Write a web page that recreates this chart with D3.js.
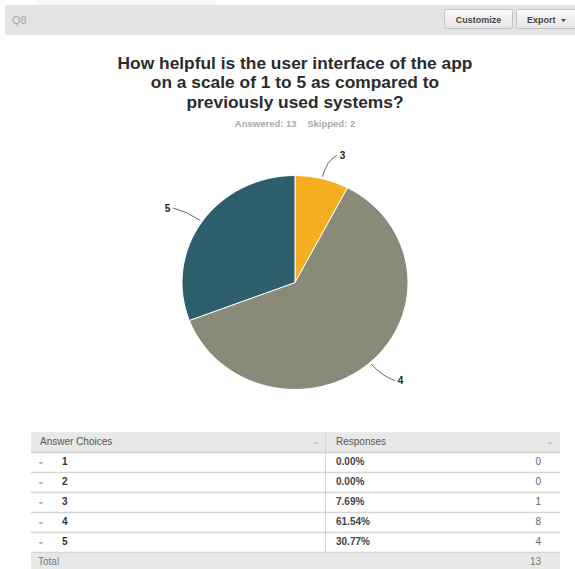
<!DOCTYPE html>
<html>
<head>
<meta charset="utf-8">
<script src="https://cdn.jsdelivr.net/npm/d3@7"></script>
<style>
  body { margin: 0; background: #fff; }
  svg { display: block; font-family: 'Liberation Sans', Arial, sans-serif; }
</style>
</head>
<body>
<div id="chart"></div>
<script>
const TITLE_LINES = [
  'How helpful is the user interface of the app',
  'on a scale of 1 to 5 as compared to',
  'previously used systems?',
];
const ANSWERED = 13;
const SKIPPED = 2;
const CHOICES = ['1', '2', '3', '4', '5'];
const RESPONSES = [0, 0, 1, 8, 4];
const COLORS = ['#6e9fb7', '#c9502c', '#f5ae1f', '#898a78', '#2e5d6b'];

const width = 575;
const height = 569;
const cx = 295;
const cy = 282.5;
const rx = 113;
const ry = 107;

const svg = d3.select('#chart').append('svg')
  .attr('width', width)
  .attr('height', height);

// top toolbar
svg.append('rect').attr('x', 36).attr('y', 0).attr('width', 180).attr('height', 5).attr('fill', '#f7f7f7');
svg.append('rect').attr('x', 5).attr('y', 5).attr('width', 570).attr('height', 30).attr('fill', '#e4e4e2');
svg.append('text')
  .attr('x', 12).attr('y', 24)
  .attr('font-size', 11).attr('fill', '#a8a8a8')
  .text('Q8');

const defs = svg.append('defs');
const grad = defs.append('linearGradient').attr('id', 'btn').attr('x1', 0).attr('y1', 0).attr('x2', 0).attr('y2', 1);
grad.append('stop').attr('offset', 0).attr('stop-color', '#fafafa');
grad.append('stop').attr('offset', 1).attr('stop-color', '#e6e6e6');

const buttons = [
  { label: 'Customize', x: 444, w: 68, tx: 478.5, anchor: 'middle' },
  { label: 'Export', x: 516, w: 62, tx: 527, anchor: 'start' },
];
buttons.forEach((b) => {
  svg.append('rect')
    .attr('x', b.x + 0.5).attr('y', 9.5).attr('width', b.w).attr('height', 19)
    .attr('rx', 2)
    .attr('fill', 'url(#btn)').attr('stroke', '#c4c4c4');
  svg.append('text')
    .attr('x', b.tx)
    .attr('y', 23)
    .attr('text-anchor', b.anchor)
    .attr('font-size', 9).attr('font-weight', 700).attr('fill', '#444')
    .text(b.label);
});
svg.append('path').attr('d', 'M561,19 l5,0 l-2.5,3 z').attr('fill', '#444');

// title
const title = svg.append('text')
  .attr('text-anchor', 'middle')
  .attr('transform', `translate(${cx},0) scale(1.085,1)`)
  .attr('font-size', 16).attr('font-weight', 700).attr('fill', '#2b2b2b');
TITLE_LINES.forEach((line, i) => {
  title.append('tspan').attr('x', 0).attr('y', 69 + i * 19.5).text(line);
});
svg.append('text')
  .attr('x', cx).attr('y', 127)
  .attr('text-anchor', 'middle')
  .attr('font-size', 9.5).attr('font-weight', 700).attr('fill', '#a9a9a9')
  .attr('xml:space', 'preserve')
  .text(`Answered: ${ANSWERED}    Skipped: ${SKIPPED}`);

// pie (reference is slightly squashed vertically)
const data = CHOICES.map((c, i) => ({ choice: c, value: RESPONSES[i], color: COLORS[i] }));
const pie = d3.pie().sort(null).value(d => d.value);
const arcs = pie(data);
const arc = d3.arc().innerRadius(0).outerRadius(rx);

const g = svg.append('g').attr('transform', `translate(${cx},${cy})`);
g.append('g')
  .attr('transform', `scale(1,${ry / rx})`)
  .selectAll('path.slice')
  .data(arcs.filter(d => d.data.value > 0))
  .enter().append('path')
  .attr('class', 'slice')
  .attr('d', arc)
  .attr('fill', d => d.data.color)
  .attr('stroke', '#fff')
  .attr('stroke-width', 1);

// labels with curved connectors
arcs.filter(d => d.data.value > 0).forEach((d) => {
  const a = (d.startAngle + d.endAngle) / 2;
  const s = Math.sin(a);
  const c = -Math.cos(a);
  const side = s >= 0 ? 1 : -1;
  const p0 = [s * (rx + 2), c * (ry + 2)];
  const p1 = [s * (rx + 18), c * (ry + 18)];
  const end = [s * (rx + 24) + side * 9, c * (ry + 24)];
  g.append('path')
    .attr('d', `M${p0}Q${p1} ${end}`)
    .attr('fill', 'none')
    .attr('stroke', '#666')
    .attr('stroke-width', 1);
  g.append('text')
    .attr('x', end[0] + side * 3)
    .attr('y', end[1] + 3.5)
    .attr('text-anchor', side > 0 ? 'start' : 'end')
    .attr('font-size', 10).attr('font-weight', 700).attr('fill', '#222')
    .text(d.data.choice);
});

// table
const total = d3.sum(RESPONSES);
const fmt = d3.format('.2%');
const tx0 = 31;
const tx1 = 560;
const colX = 325;
const headY = 432;
const rowH = 20;
const fs = 10;

const table = svg.append('g').attr('class', 'table');
table.append('rect').attr('x', tx0).attr('y', headY).attr('width', tx1 - tx0).attr('height', rowH).attr('fill', '#e8e8e6');
const totalY = headY + rowH * (CHOICES.length + 1);
table.append('rect').attr('x', tx0).attr('y', totalY).attr('width', tx1 - tx0).attr('height', rowH).attr('fill', '#e8e8e6');

for (let i = 0; i <= CHOICES.length + 1; i++) {
  const y = headY + rowH * i;
  table.append('line')
    .attr('x1', tx0).attr('x2', tx1)
    .attr('y1', y + 0.5).attr('y2', y + 0.5)
    .attr('stroke', i === 0 ? '#ececec' : '#d6d6d6')
    .attr('stroke-width', i === 0 ? 1 : 1.5);
}
table.append('line')
  .attr('x1', colX + 0.5).attr('x2', colX + 0.5)
  .attr('y1', headY).attr('y2', totalY)
  .attr('stroke', '#d6d6d6');

table.append('text').attr('x', 40).attr('y', headY + 12.5)
  .attr('font-size', fs).attr('fill', '#555').text('Answer Choices');
table.append('text').attr('x', 336).attr('y', headY + 12.5)
  .attr('font-size', fs).attr('fill', '#555').text('Responses');
[[316, headY + 10], [550, headY + 10]].forEach(([x, y]) => {
  table.append('path').attr('d', `M${x - 3},${y} l6,0 l-3,2.5 z`).attr('fill', '#c4c4c4');
});

CHOICES.forEach((c, i) => {
  const y = headY + rowH * (i + 1);
  table.append('path').attr('d', `M${38},${y + 10} l6,0 l-3,2.5 z`).attr('fill', '#b8b8b8');
  table.append('text').attr('x', 62).attr('y', y + 12.5)
    .attr('font-size', fs).attr('font-weight', 700).attr('fill', '#333').text(c);
  table.append('text').attr('x', 336).attr('y', y + 12.5)
    .attr('font-size', fs).attr('font-weight', 700).attr('fill', '#444')
    .text(fmt(RESPONSES[i] / total));
  table.append('text').attr('x', 541).attr('y', y + 12.5)
    .attr('text-anchor', 'end')
    .attr('font-size', fs).attr('fill', '#666').text(RESPONSES[i]);
});
table.append('text').attr('x', 38).attr('y', totalY + 12.5)
  .attr('font-size', fs).attr('fill', '#777').text('Total');
table.append('text').attr('x', 541).attr('y', totalY + 12.5)
  .attr('text-anchor', 'end')
  .attr('font-size', fs).attr('fill', '#777').text(total);
</script>
</body>
</html>
